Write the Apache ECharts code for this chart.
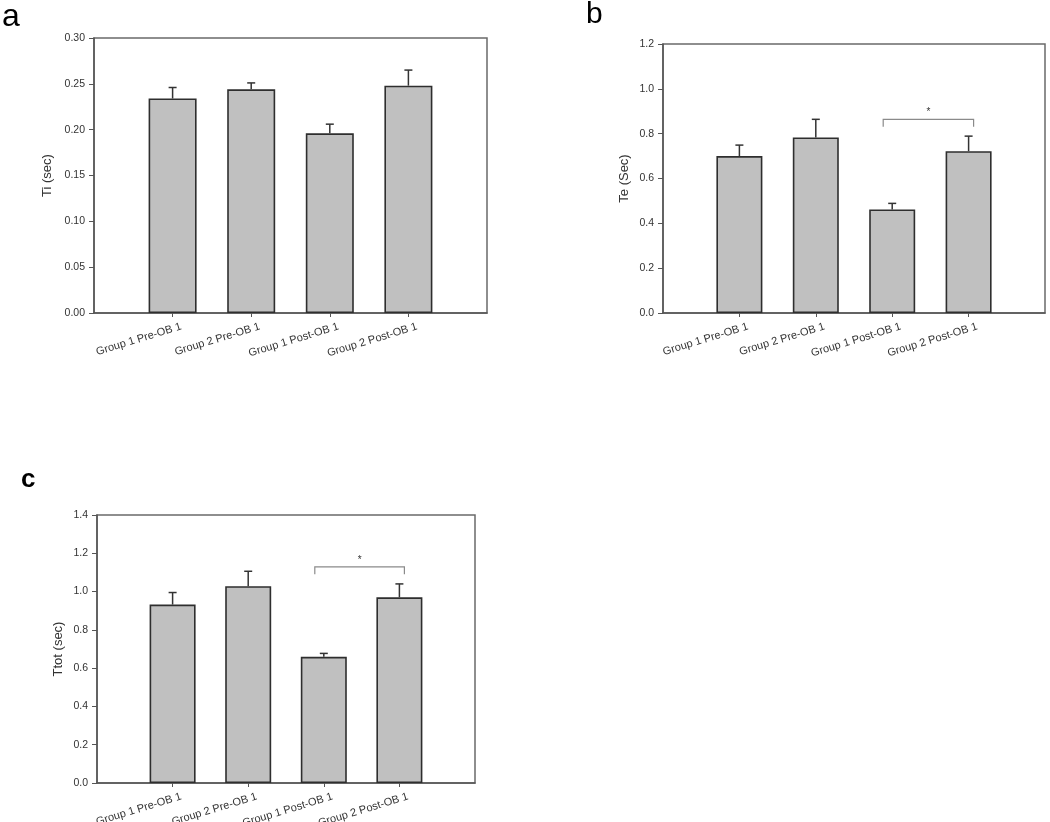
<!DOCTYPE html>
<html>
<head>
<meta charset="utf-8">
<script src="https://cdn.jsdelivr.net/npm/echarts@6/dist/echarts.min.js"></script>
<style>
html,body{margin:0;padding:0;background:#fff;}
#chart{width:1050px;height:822px;}
</style>
</head>
<body>
<div id="chart"></div>
<script>
// ---- data ----
var categories = ['Group 1 Pre-OB 1', 'Group 2 Pre-OB 1', 'Group 1 Post-OB 1', 'Group 2 Post-OB 1'];

var tiMean  = [0.234, 0.244, 0.196, 0.248];
var tiUpper = [0.246, 0.251, 0.206, 0.265];

var teMean  = [0.700, 0.783, 0.462, 0.722];
var teUpper = [0.749, 0.864, 0.489, 0.789];

var ttotMean  = [0.932, 1.028, 0.659, 0.970];
var ttotUpper = [0.995, 1.106, 0.677, 1.040];

// significance brackets: [fromCategoryIndex, toCategoryIndex, barHeight, legEnd]
var sigB = [2, 3, 0.864, 0.831];
var sigC = [2, 3, 1.129, 1.090];

var panelLetters = ['a', 'b', 'c'];
var yNames = ['Ti (sec)', 'Te (Sec)', 'Ttot (sec)'];
var yMax = [0.30, 1.2, 1.4];
var yStep = [0.05, 0.2, 0.2];
var yDecimals = [2, 1, 1];

// ---- build ----
var axisCats = [''].concat(categories).concat(['']);
function pad(arr) { return [null].concat(arr).concat([null]); }

var FONT = 'Liberation Sans, Arial, sans-serif';
var grids = [
  {left: 94, top: 38, width: 393, height: 275},
  {left: 663, top: 44, width: 382, height: 269},
  {left: 97, top: 515, width: 378, height: 268}
];
var barWidths = [48, 46, 46];

var xAxes = [], yAxes = [], series = [];
var means = [tiMean, teMean, ttotMean];
var uppers = [tiUpper, teUpper, ttotUpper];
var nameGaps = [40, 32, 32];

grids.forEach(function (g, i) {
  g.show = true;
  g.borderColor = '#6a6a6a';
  g.borderWidth = 1.5;
  g.backgroundColor = 'transparent';
  g.containLabel = false;
  g.outerBoundsMode = 'none';
  xAxes.push({
    type: 'category', gridIndex: i, data: axisCats, boundaryGap: false,
    axisLine: {show: true, lineStyle: {color: '#555', width: 1.5}},
    axisTick: {show: true, length: 4, alignWithLabel: true, lineStyle: {color: '#555'},
      interval: function (idx, val) { return val !== ''; }},
    axisLabel: {interval: 0, rotate: 17, fontSize: 11, color: '#333', fontFamily: FONT, margin: 16,
      padding: [0, -9, 0, 0]},
    splitLine: {show: false}
  });
  yAxes.push({
    type: 'value', gridIndex: i, min: 0, max: yMax[i], interval: yStep[i],
    name: yNames[i], nameLocation: 'middle', nameGap: nameGaps[i],
    nameTextStyle: {fontSize: 13, color: '#333', fontFamily: FONT},
    axisLine: {show: true, lineStyle: {color: '#555', width: 1.5}},
    axisTick: {show: true, length: 5, lineStyle: {color: '#555'}},
    axisLabel: {fontSize: 10.5, color: '#333', fontFamily: FONT, margin: 9,
      formatter: (function (d) { return function (v) { return v.toFixed(d); }; })(yDecimals[i])},
    splitLine: {show: false}
  });
  series.push({
    type: 'bar', xAxisIndex: i, yAxisIndex: i, data: pad(means[i]), barWidth: barWidths[i],
    itemStyle: {color: '#c0c0c0', borderColor: '#2e2e2e', borderWidth: 1.6},
    silent: true, z: 2
  });
  var errData = means[i].map(function (m, k) { return [k + 1, m, uppers[i][k]]; });
  series.push({
    type: 'custom', xAxisIndex: i, yAxisIndex: i, data: errData, silent: true, z: 3,
    renderItem: function (params, api) {
      var x = api.value(0);
      var lo = api.coord([x, api.value(1)]);
      var hi = api.coord([x, api.value(2)]);
      var style = {stroke: '#333', lineWidth: 1.5};
      return {type: 'group', children: [
        {type: 'line', shape: {x1: lo[0], y1: lo[1], x2: hi[0], y2: hi[1]}, style: style},
        {type: 'line', shape: {x1: hi[0] - 4, y1: hi[1], x2: hi[0] + 4, y2: hi[1]}, style: style}
      ]};
    }
  });
});

function bracketSeries(idx, sig) {
  return {
    type: 'custom', xAxisIndex: idx, yAxisIndex: idx, silent: true, z: 4,
    data: [[sig[0] + 1, sig[1] + 1, sig[2], sig[3]]],
    renderItem: function (params, api) {
      var a = api.coord([api.value(0), api.value(2)]);
      var b = api.coord([api.value(1), api.value(2)]);
      var e = api.coord([api.value(0), api.value(3)]);
      var x1 = a[0] - 9, x2 = b[0] + 5, y = a[1], ye = e[1];
      var st = {stroke: '#8a8a8a', lineWidth: 1.2, fill: null};
      return {type: 'group', children: [
        {type: 'polyline', shape: {points: [[x1, ye], [x1, y], [x2, y], [x2, ye]]}, style: st},
        {type: 'text', x: (x1 + x2) / 2, y: y - 7,
          style: {text: '*', fontSize: 10, fill: '#333', align: 'center', verticalAlign: 'middle', fontFamily: FONT}}
      ]};
    }
  };
}
series.push(bracketSeries(1, sigB));
series.push(bracketSeries(2, sigC));

var letterPos = [[2, 17, 32, 'normal'], [586, 15, 30, 'normal'], [21, 480, 26, 'bold']];
var graphics = panelLetters.map(function (t, i) {
  return {type: 'text', left: letterPos[i][0], top: letterPos[i][1] - letterPos[i][2] / 2,
    style: {text: t, fontSize: letterPos[i][2], fill: '#000', fontWeight: letterPos[i][3],
      fontFamily: 'Liberation Sans, Arial, sans-serif'}};
});

var chart = echarts.init(document.getElementById('chart'), null, {renderer: 'canvas'});
chart.setOption({
  backgroundColor: '#fff',
  animation: false,
  grid: grids,
  xAxis: xAxes,
  yAxis: yAxes,
  series: series,
  graphic: graphics
});
</script>
</body>
</html>
